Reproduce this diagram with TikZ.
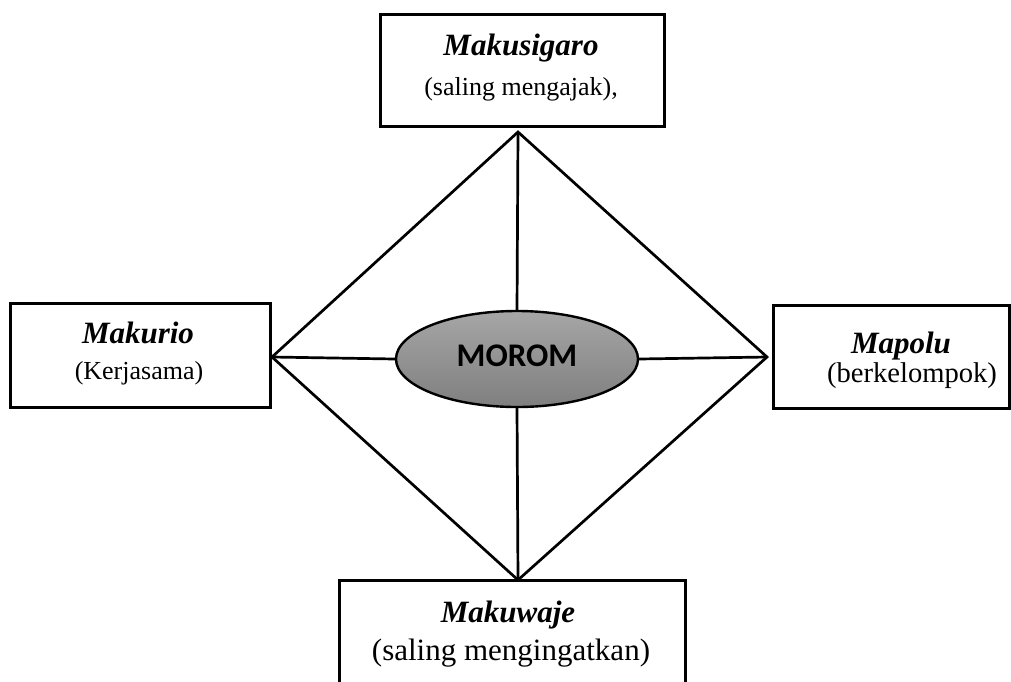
\documentclass[tikz,border=0pt]{standalone}
\usepackage{fontspec}
\setmainfont{Liberation Serif}
\newfontfamily\calib{Carlito}
\usetikzlibrary{shapes.geometric}
\definecolor{ellTop}{HTML}{A6A6A6}
\definecolor{ellBot}{HTML}{7F7F7F}
\begin{document}
\begin{tikzpicture}[x=1pt,y=-1pt,
 box/.style={draw, line width=3pt, inner sep=0pt, fill=white},
 ttl/.style={font=\bfseries\itshape\fontsize{31}{31}\selectfont, anchor=base, inner sep=0pt},
 sub/.style={font=\fontsize{26}{26}\selectfont, anchor=base, inner sep=0pt},
 conn/.style={line width=2.7pt},
 hub/.style={ellipse, draw, line width=2.4pt, top color=ellTop, bottom color=ellBot, minimum width=242pt, minimum height=96pt, inner sep=0pt},
 hubtext/.style={font=\calib\bfseries\fontsize{33}{33}\selectfont, anchor=base, inner sep=0pt}]
\useasboundingbox (0,0) rectangle (1011,681);
\clip (0,0) rectangle (1011,681);
% boxes
\node[box, minimum width=284pt, minimum height=112pt] (topbox) at (522,70) {};
\node[box, minimum width=260pt, minimum height=104pt] (leftbox) at (140,355) {};
\node[box, minimum width=236pt, minimum height=103pt] (rightbox) at (891,356.5) {};
\node[box, minimum width=346pt, minimum height=140pt] (botbox) at (512,650) {};
% texts
\node[ttl] (t1) at (521,55) {Makusigaro};
\node[sub] (s1) at (521,95) {(saling mengajak),};
\node[ttl] (t2) at (138,343) {Makurio};
\node[sub] (s2) at (139,379) {(Kerjasama)};
\node[ttl] (t3) at (901,353) {Mapolu};
\node[sub, font=\fontsize{28.6}{28.6}\selectfont] (s3) at (912,382) {(berkelompok)};
\node[ttl] (t4) at (508,622) {Makuwaje};
\node[sub, font=\fontsize{31}{31}\selectfont] (s4) at (511,660) {(saling mengingatkan)};
% diamond vertices
\coordinate (T) at (518,132);
\coordinate (L) at (272,357);
\coordinate (R) at (767,357);
\coordinate (B) at (518,580);
% hub
\node[hub] (morom) at (517,359) {};
\node[hubtext] (mtext) at (517,366) {MOROM};
% connectors
\draw[conn, line join=miter] (T) -- (L) -- (B) -- (R) -- cycle;
\draw[conn] (T) -- (morom.north);
\draw[conn] (morom.south) -- (B);
\draw[conn] (L) -- (morom.west);
\draw[conn] (morom.east) -- (R);
\end{tikzpicture}
\end{document}
